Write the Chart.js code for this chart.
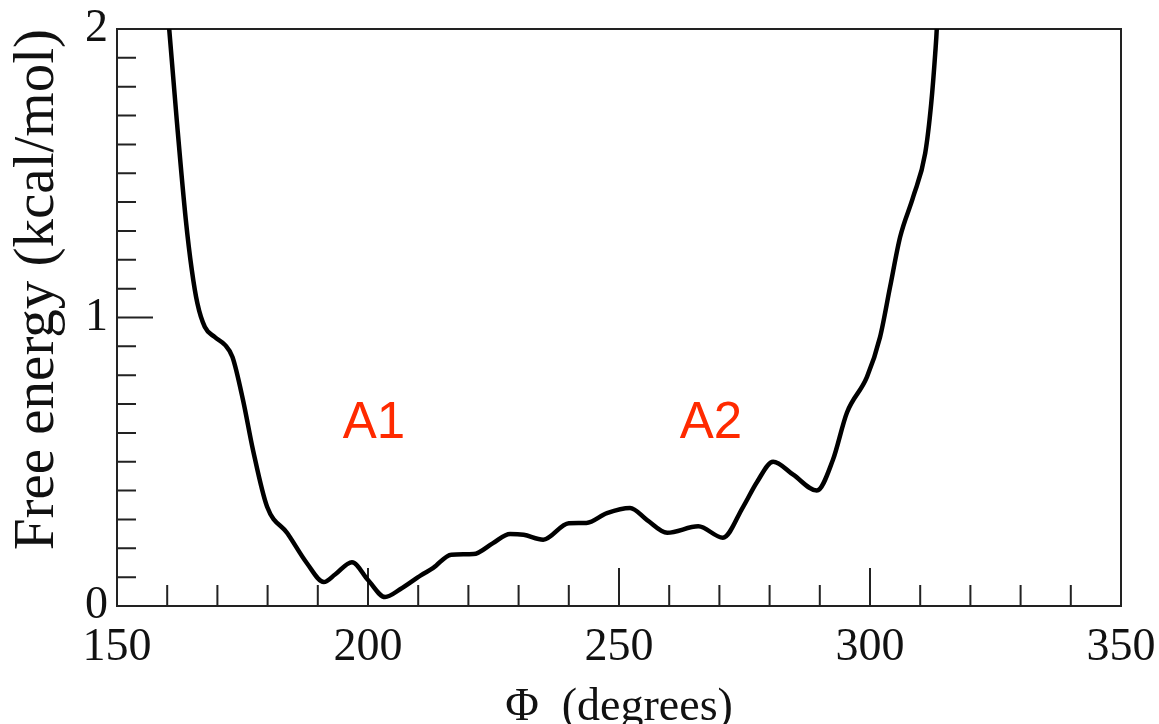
<!DOCTYPE html>
<html lang="en">
<head>
  <meta charset="UTF-8">
  <title>Free energy vs Phi</title>
  <script src="https://cdn.jsdelivr.net/npm/chart.js"></script>
  <style>
    body { margin: 0; background: #fff; }
    #wrap { width: 1159px; height: 724px; }
  </style>
</head>
<body>
  <div id="wrap">
    <canvas id="energyChart" width="1159" height="724"></canvas>
  </div>

<script>
// valores
const phi = [160.0, 160.4, 161.9, 163.7, 164.9, 166.0, 167.5, 169.5, 171.5, 173.0, 175.1, 177.1, 179.9,
  183.9, 187.8, 191.2, 193.5, 196.8, 200.0, 203.4, 206.4, 210.6, 213.0, 216.6, 221.0, 224.9, 228.3, 231.0, 234.9,
  240.0, 243.5, 247.6, 252.2, 255.6, 259.6, 265.8, 270.7, 274.7, 277.5, 280.7, 284.7, 289.4, 292.6, 295.4, 299.4,
  302.0, 304.0, 306.0, 308.6, 311.0, 312.2, 313.0, 313.3, 313.5];
const energy = [2.09, 2.0, 1.685, 1.34, 1.165, 1.05, 0.967, 0.932, 0.905, 0.863, 0.714, 0.54, 0.344,
  0.253, 0.149, 0.083, 0.11, 0.152, 0.09, 0.031, 0.058, 0.107, 0.132, 0.178, 0.18, 0.218, 0.25, 0.247, 0.23,
  0.287, 0.288, 0.322, 0.34, 0.298, 0.254, 0.276, 0.237, 0.343, 0.43, 0.5, 0.455, 0.4, 0.506, 0.67, 0.794,
  0.932, 1.106, 1.279, 1.418, 1.57, 1.743, 1.917, 2.0, 2.1];

const xTicks = [150, 200, 250, 300, 350];
const yTicks = [0, 1, 2];
const xMinor = [160, 170, 180, 190, 200, 210, 220, 230, 240, 250, 260, 270, 280, 290, 300, 310, 320, 330, 340];
const yMinor = [0.1, 0.2, 0.3, 0.4, 0.5, 0.6, 0.7, 0.8, 0.9, 1.0, 1.1, 1.2, 1.3, 1.4, 1.5, 1.6, 1.7, 1.8, 1.9];

const labels = [
  { text: 'A1', x: 201.2, y: 0.63 },
  { text: 'A2', x: 268.3, y: 0.63 }
];

const points = phi.map((p, i) => ({ x: p, y: energy[i] }));

// moldura e ticks para dentro, como no original
const framePlugin = {
  id: 'frame',
  beforeDatasetsDraw(chart) {
    const { ctx, chartArea: a, scales: { x, y } } = chart;
    ctx.save();
    ctx.strokeStyle = '#222';
    ctx.lineWidth = 2;
    ctx.beginPath();
    xMinor.forEach(v => {
      const px = x.getPixelForValue(v);
      const len = (v % 50 === 0) ? 38 : 21;
      ctx.moveTo(px, a.bottom);
      ctx.lineTo(px, a.bottom - len);
    });
    yMinor.forEach(v => {
      const py = y.getPixelForValue(v);
      const len = (Math.abs(v - 1) < 1e-6) ? 36 : 19;
      ctx.moveTo(a.left, py);
      ctx.lineTo(a.left + len, py);
    });
    ctx.stroke();
    ctx.strokeRect(a.left, a.top, a.right - a.left, a.bottom - a.top);
    ctx.restore();
  },
  afterDatasetsDraw(chart) {
    const { ctx, scales: { x, y } } = chart;
    ctx.save();
    ctx.fillStyle = '#ff2a00';
    ctx.font = '51px "Liberation Sans", Arial, sans-serif';
    ctx.textAlign = 'center';
    ctx.textBaseline = 'middle';
    labels.forEach(l => {
      ctx.fillText(l.text, x.getPixelForValue(l.x), y.getPixelForValue(l.y));
    });
    ctx.restore();
  }
};

const serif = '"Liberation Serif", "Times New Roman", serif';

const ctx = document.getElementById('energyChart').getContext('2d');
new Chart(ctx, {
  type: 'line',
  data: {
    datasets: [{
      data: points,
      borderColor: '#000',
      borderWidth: 4.5,
      pointRadius: 0,
      fill: false,
      cubicInterpolationMode: 'monotone',
      clip: 0
    }]
  },
  options: {
    responsive: false,
    animation: false,
    layout: { padding: { top: 29, right: 38, bottom: 0, left: 0 } },
    plugins: {
      legend: { display: false },
      tooltip: { enabled: false }
    },
    scales: {
      x: {
        type: 'linear',
        min: 150,
        max: 350,
        afterFit(scale) {
          scale.height = 118;
          scale.paddingLeft = 0;
          scale.paddingRight = 0;
        },
        afterBuildTicks(scale) { scale.ticks = xTicks.map(v => ({ value: v })); },
        grid: { display: false, drawTicks: false },
        border: { display: false },
        ticks: {
          color: '#111',
          padding: 14,
          maxRotation: 0,
          font: { family: serif, size: 46 }
        },
        title: {
          display: true,
          text: 'Φ  (degrees)',
          color: '#111',
          padding: { top: 0, bottom: 0 },
          font: { family: serif, size: 46, lineHeight: 0.7 }
        }
      },
      y: {
        min: 0,
        max: 2,
        afterFit(scale) {
          scale.width = 117;
          scale.paddingTop = 0;
          scale.paddingBottom = 0;
        },
        afterBuildTicks(scale) { scale.ticks = yTicks.map(v => ({ value: v })); },
        grid: { display: false, drawTicks: false },
        border: { display: false },
        ticks: {
          color: '#111',
          padding: 9,
          font: { family: serif, size: 46 }
        },
        title: {
          display: true,
          text: 'Free energy (kcal/mol)',
          color: '#111',
          align: 'end',
          padding: { top: 10, bottom: 0 },
          font: { family: serif, size: 57, lineHeight: 1 }
        }
      }
    }
  },
  plugins: [framePlugin]
});
</script>
</body>
</html>
